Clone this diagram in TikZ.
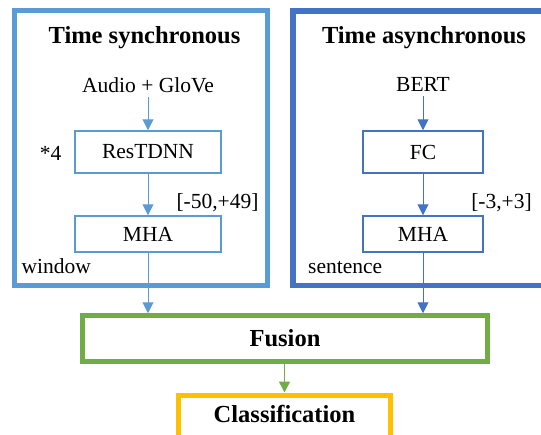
\documentclass[tikz,border=0pt]{standalone}
\usepackage{fontspec}
\setmainfont{Liberation Serif}
\usetikzlibrary{arrows.meta}
\definecolor{lblue}{HTML}{5B9BD5}
\definecolor{dblue}{HTML}{4472C4}
\definecolor{fgreen}{HTML}{70AD47}
\definecolor{gold}{HTML}{FFC000}
\tikzset{
  txt/.style={font=\fontsize{21.5}{24}\selectfont, inner sep=0pt, anchor=base},
  ttl/.style={font=\fontsize{24.5}{28}\selectfont\bfseries, inner sep=0pt, anchor=base},
  blk/.style={draw=#1, line width=1.5pt, minimum width=146pt, inner sep=0pt,
    font=\fontsize{21.5}{24}\selectfont},
  group/.style={draw=#1, line width=5pt, inner sep=0pt},
  arr/.style={draw=#1, line width=1pt, -{Triangle[width=11pt,length=11pt]}},
}
\begin{document}
\begin{tikzpicture}[x=1pt,y=-1pt]
\useasboundingbox (0,0) rectangle (541,434);
\clip (0,0) rectangle (541,434);
% group boxes
\node[group=lblue, minimum width=253pt, minimum height=275.5pt] (gleft) at (141,147.75) {};
\node[group=dblue, line width=5.5pt, minimum width=252pt, minimum height=274.5pt] (gright) at (419,148.25) {};
% titles
\node[ttl] (tleft) at (144.5,43) {Time synchronous};
\node[ttl] (tright) at (424,43) {Time asynchronous};
% left column
\node[txt, text depth=5pt] (audio) at (148,92) {Audio + GloVe};
\node[blk=lblue, minimum height=42pt] (res) at (148,152) {ResTDNN};
\node[blk=lblue, minimum height=36pt] (mhal) at (148,234) {MHA};
\node[txt] (rep) at (50.5,160) {*4};
\node[txt] (winl) at (217.5,208) {[-50,+49]};
\node[txt, anchor=base west] (window) at (21.5,273) {window};
% right column
\node[txt, text depth=5pt] (bert) at (423,91) {BERT};
\node[blk=dblue, minimum width=120pt, minimum height=42pt] (fc) at (423,152) {FC};
\node[blk=dblue, minimum width=120pt, minimum height=36pt] (mhar) at (423,234) {MHA};
\node[txt] (winr) at (501.5,208) {[-3,+3]};
\node[txt, anchor=base west] (sentence) at (308,273) {sentence};
% fusion and classification
\node[draw=fgreen, line width=4.5pt, minimum width=405pt, minimum height=46pt, inner sep=0pt,
  font=\fontsize{24.5}{28}\selectfont\bfseries] (fusion) at (285,338.5) {Fusion};
\node[draw=gold, line width=5pt, minimum width=212pt, inner sep=0pt, anchor=north,
  text height=27.5pt, text depth=20pt,
  font=\fontsize{24.5}{28}\selectfont\bfseries] (cls) at (284.5,392.5) {Classification};
% connectors
\draw[arr=lblue] (audio.south) -- (res.north);
\draw[arr=lblue] (res.south) -- (mhal.north);
\draw[arr=lblue] (mhal.south) -- (mhal.south |- fusion.north);
\draw[arr=dblue] (bert.south) -- (fc.north);
\draw[arr=dblue] (fc.south) -- (mhar.north);
\draw[arr=dblue] (mhar.south) -- (mhar.south |- fusion.north);
\draw[arr=fgreen, line width=1.5pt] (fusion.south -| cls.north) -- (cls.north);
\end{tikzpicture}
\end{document}
